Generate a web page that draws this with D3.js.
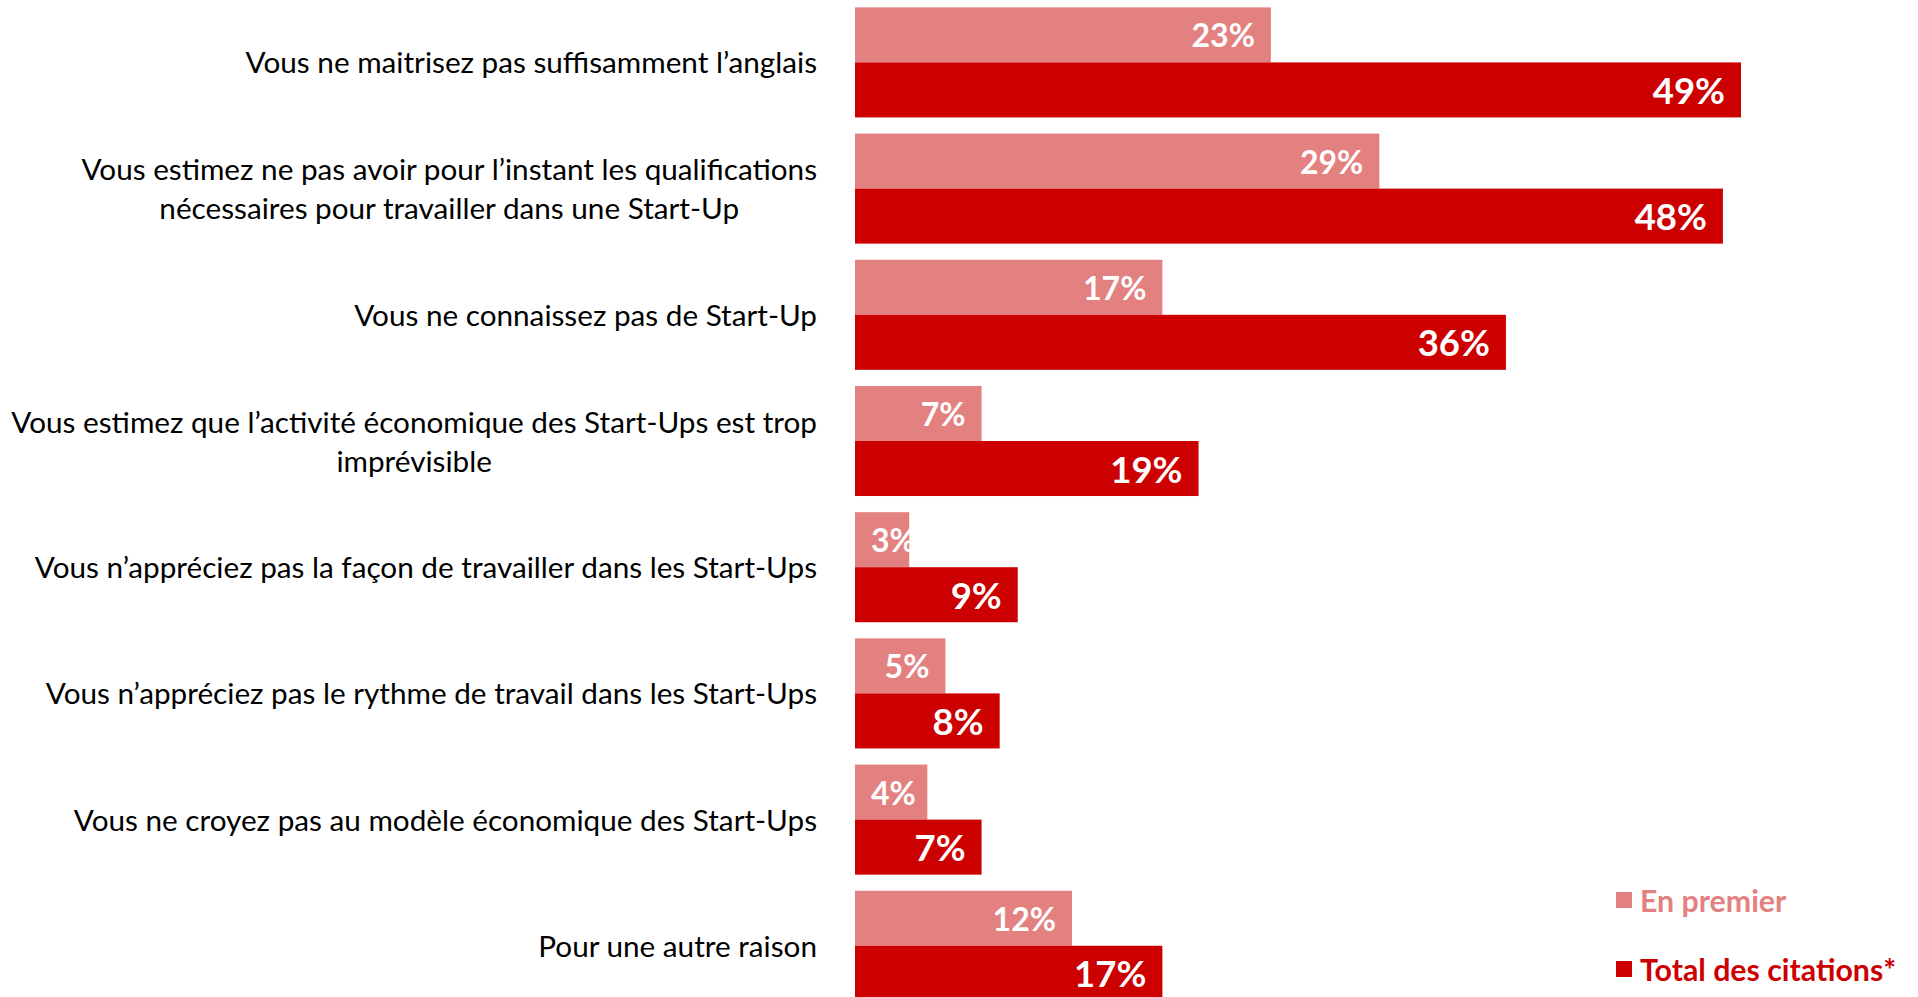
<!DOCTYPE html>
<html><head><meta charset="utf-8">
<script src="https://cdn.jsdelivr.net/npm/d3@7"></script>
<style>html,body{margin:0;padding:0;background:#fff;overflow:hidden}</style>
</head><body>
<svg id="chart" width="1918" height="997"></svg>
<script>
const categories = [
  ["Vous ne maitrisez pas suffisamment l\u2019anglais"],
  ["Vous estimez ne pas avoir pour l\u2019instant les qualifications", "n\u00e9cessaires pour travailler dans une Start-Up"],
  ["Vous ne connaissez pas de Start-Up"],
  ["Vous estimez que l\u2019activit\u00e9 \u00e9conomique des Start-Ups est trop", "impr\u00e9visible"],
  ["Vous n\u2019appr\u00e9ciez pas la fa\u00e7on de travailler dans les Start-Ups"],
  ["Vous n\u2019appr\u00e9ciez pas le rythme de travail dans les Start-Ups"],
  ["Vous ne croyez pas au mod\u00e8le \u00e9conomique des Start-Ups"],
  ["Pour une autre raison"]
];
const seriesNames = ["En premier", "Total des citations*"];
const enPremier = [23, 29, 17, 7, 3, 5, 4, 12];
const totalCitations = [49, 48, 36, 19, 9, 8, 7, 17];
const colors = ["#E38080", "#CC0000"];

const svg = d3.select("#chart");
const catKeys = categories.map((c, i) => i);
const y = d3.scaleBand().domain(catKeys).range([-0.7, 1008.9]).paddingInner(0.128).paddingOuter(0.064);
const ySub = d3.scaleBand().domain([0, 1]).range([0, y.bandwidth()]);
const x = d3.scaleLinear().domain([0, 49]).range([855, 1741]);

const data = [];
catKeys.forEach(i => {
  data.push({cat: i, s: 0, v: enPremier[i]});
  data.push({cat: i, s: 1, v: totalCitations[i]});
});

svg.append("g").selectAll("rect").data(data).join("rect")
  .attr("x", x(0))
  .attr("y", d => y(d.cat) + ySub(d.s))
  .attr("width", d => x(d.v) - x(0))
  .attr("height", ySub.bandwidth())
  .attr("fill", d => colors[d.s]);

// value labels
const pad = 16;
const vl = svg.append("g").selectAll("text").data(data).join("text")
  .attr("font-family", "Lato, sans-serif")
  .attr("font-weight", "bold")
  .attr("font-size", d => d.s === 0 ? 32 : 36.5)
  .attr("fill", "#fff")
  .attr("dominant-baseline", "central")
  .attr("y", d => y(d.cat) + ySub(d.s) + ySub.bandwidth() / 2)
  .text(d => d.v + "%");
vl.each(function(d) {
  const w = this.getComputedTextLength();
  const xe = Math.max(x(d.v) - pad, x(0) + pad + w);
  d3.select(this).attr("x", xe).attr("text-anchor", "end");
});

// category labels (block right-aligned, lines centered within block)
const lineH = 39;
const labelRight = 817;
const cl = svg.append("g").selectAll("text").data(catKeys).join("text")
  .attr("font-family", "Lato, sans-serif")
  .attr("font-size", 29.7)
  .attr("fill", "#000")
  .attr("text-anchor", "middle")
  .attr("dominant-baseline", "central");
cl.each(function(i) {
  const lines = categories[i];
  const cy = y(i) + y.bandwidth() / 2 - (lines.length - 1) * lineH / 2 - 1;
  const t = d3.select(this);
  const spans = t.selectAll("tspan").data(lines).join("tspan")
    .attr("y", (l, j) => cy + j * lineH)
    .text(l => l);
  let maxW = 0;
  spans.each(function() { maxW = Math.max(maxW, this.getComputedTextLength()); });
  spans.attr("x", labelRight - maxW / 2);
});

// legend
const leg = svg.append("g").selectAll("g").data(seriesNames).join("g")
  .attr("transform", (d, i) => `translate(1616, ${900 + i * 69})`);
leg.append("rect").attr("x", 0).attr("y", -8).attr("width", 16).attr("height", 16)
  .attr("fill", (d, i) => colors[i]);
leg.append("text").attr("x", 24).attr("y", 0)
  .attr("dominant-baseline", "central")
  .attr("font-family", "Lato, sans-serif").attr("font-weight", "bold").attr("font-size", 30.3)
  .attr("fill", (d, i) => colors[i])
  .text(d => d);
</script>
</body></html>
